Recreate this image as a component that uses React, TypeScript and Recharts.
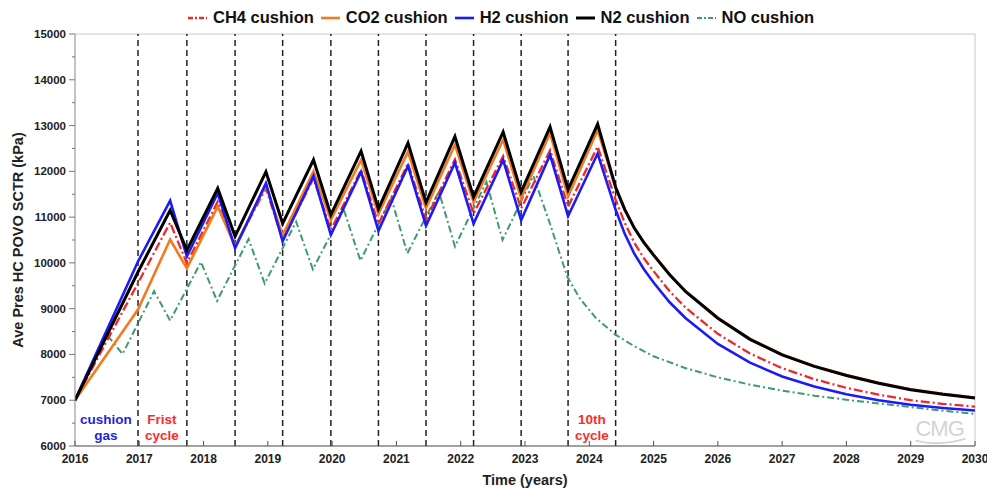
import { LineChart, Line, XAxis, YAxis, ReferenceLine, ReferenceDot } from "recharts";

// time axis shared by the four cushion-gas runs (years): ramp, 10 cycles, shut-in decline
const cycleYears = [
  2016, 2016.98,
  2017.48, 2017.74, 2018.22, 2018.49, 2018.97, 2019.23, 2019.71, 2019.98, 2020.45,
  2020.72, 2021.18, 2021.46, 2021.91, 2022.2, 2022.66, 2022.94, 2023.39, 2023.67, 2024.13,
  2024.41, 2024.55, 2024.7, 2024.85, 2025, 2025.25, 2025.5, 2026, 2026.5, 2027, 2027.5,
  2028, 2028.5, 2029, 2029.5, 2030,
];

const ch4 = [
  7000, 9560,
  10880, 9990, 11340, 10360, 11630, 10500, 11850, 10720, 12030,
  10850, 12170, 10950, 12260, 11080, 12330, 11190, 12460, 11230, 12540,
  11380, 10880, 10440, 10100, 9820, 9380, 9020, 8450, 8020, 7700, 7460,
  7270, 7120, 7000, 6920, 6860,
];

const co2 = [
  7000, 8980,
  10510, 9880, 11230, 10360, 11700, 10600, 12000, 10940, 12250,
  11070, 12430, 11190, 12580, 11330, 12690, 11410, 12830, 11450, 12900,
  11640, 11180, 10770, 10450, 10180, 9750, 9380, 8800, 8340, 8000, 7750,
  7550, 7380, 7240, 7140, 7060,
];

const h2 = [
  7000, 10030,
  11360, 10140, 11525, 10320, 11740, 10470, 11900, 10610, 11990,
  10700, 12120, 10810, 12190, 10860, 12250, 10930, 12360, 11020, 12390,
  11160, 10640, 10200, 9860, 9570, 9140, 8790, 8230, 7820, 7520, 7300,
  7130, 7000, 6900, 6830, 6775,
];

const n2 = [
  7000, 9800,
  11150, 10280, 11630, 10580, 11990, 10860, 12250, 11050, 12440,
  11180, 12620, 11320, 12760, 11440, 12860, 11550, 12970, 11600, 13030,
  11650, 11170, 10760, 10440, 10170, 9740, 9370, 8790, 8330, 7990, 7740,
  7540, 7370, 7230, 7130, 7050,
];

// the run without cushion gas cycles on its own schedule
const noCushionYears = [
  2016, 2016.49, 2016.74, 2017.23, 2017.48, 2017.96, 2018.21, 2018.7, 2018.95, 2019.44,
  2019.7, 2020.18, 2020.44, 2020.92, 2021.17, 2021.66, 2021.91, 2022.4, 2022.65, 2023.13,
  2023.39, 2023.54, 2023.66, 2023.85, 2024.1, 2024.41, 2024.7, 2025, 2025.5, 2026,
  2026.5, 2027, 2027.5, 2028, 2028.5, 2029, 2029.5, 2030,
];

const noCushion = [
  7000, 8440, 8010, 9380, 8740, 10020, 9170, 10520, 9550, 10900,
  9860, 11170, 10050, 11410, 10210, 11560, 10360, 11770, 10500, 11900,
  10850, 10200, 9690, 9230, 8800, 8430, 8180, 7960, 7700, 7500,
  7340, 7210, 7100, 7010, 6930, 6850, 6770, 6700,
];

// boundaries of the cushion period and the ten storage cycles
const cycleBounds = [
  2016.98, 2017.74, 2018.49, 2019.23, 2019.98, 2020.72, 2021.46, 2022.2, 2022.94, 2023.67, 2024.41,
];

const yearTicks = [
  2016, 2017, 2018, 2019, 2020, 2021, 2022, 2023, 2024, 2025, 2026, 2027, 2028, 2029, 2030,
];

const pressureTicks = [
  6000, 6500, 7000, 7500, 8000, 8500, 9000, 9500, 10000, 10500,
  11000, 11500, 12000, 12500, 13000, 13500, 14000, 14500, 15000,
];

const FONT = "Arial, 'Liberation Sans', sans-serif";

const toPoints = (years: number[], values: number[]) =>
  years.map((t, i) => ({ t, p: values[i] }));

const series = [
  { name: "NO cushion", data: toPoints(noCushionYears, noCushion), color: "#3f9b6f", width: 2, dash: "7 3 2 3" },
  { name: "CH4 cushion", data: toPoints(cycleYears, ch4), color: "#f0282a", width: 2.3, dash: "9 3 2 3" },
  { name: "CO2 cushion", data: toPoints(cycleYears, co2), color: "#f47a22", width: 2.6, dash: undefined },
  { name: "H2 cushion", data: toPoints(cycleYears, h2), color: "#1b1bf5", width: 2.6, dash: undefined },
  { name: "N2 cushion", data: toPoints(cycleYears, n2), color: "#000000", width: 3, dash: undefined },
];

const legendOrder = ["CH4 cushion", "CO2 cushion", "H2 cushion", "N2 cushion", "NO cushion"];

const YTick = (props: any) => {
  const { x, y, payload } = props;
  const major = payload.value % 1000 === 0;
  return (
    <g>
      <line x1={x - (major ? 6 : 3)} x2={x} y1={y} y2={y} stroke="#777" strokeWidth={1} />
      {major && (
        <text x={x - 9} y={y} dy={4} textAnchor="end" fontFamily={FONT} fontWeight="bold" fontSize={11.5} fill="#222">
          {payload.value}
        </text>
      )}
    </g>
  );
};

const XTick = (props: any) => {
  const { x, y, payload } = props;
  return (
    <g>
      <line x1={x} x2={x} y1={y} y2={y - 5} stroke="#555" strokeWidth={1} />
      <text x={x} y={y + 17} textAnchor="middle" fontFamily={FONT} fontWeight="bold" fontSize={12} fill="#222">
        {payload.value}
      </text>
    </g>
  );
};

const note = (lines: string[], color: string) => (p: any) => {
  const vb = p.viewBox;
  const cx = vb.x + vb.width / 2;
  const cy = vb.y + vb.height / 2;
  return (
    <text x={cx} y={cy} textAnchor="middle" fontFamily={FONT} fontWeight="bold" fontSize={13.5} fill={color}>
      {lines.map((l, i) => (
        <tspan key={l} x={cx} dy={i === 0 ? -4 : 16}>
          {l}
        </tspan>
      ))}
    </text>
  );
};

const cmgMark = (p: any) => {
  const vb = p.viewBox;
  const cx = vb.x + vb.width / 2;
  const cy = vb.y + vb.height / 2;
  return (
    <g>
      <text x={cx} y={cy + 7} textAnchor="middle" fontFamily={FONT} fontSize={22} fill="#d4d4d4" letterSpacing={-1}>
        CMG
      </text>
      <path d={`M${cx - 24},${cy + 12} Q${cx},${cy + 18} ${cx + 26},${cy + 10}`} stroke="#d4d4d4" strokeWidth={2} fill="none" />
    </g>
  );
};

function LegendSample({ color, dash, width }: { color: string; dash?: string; width: number }) {
  return (
    <svg width={19} height={10} style={{ marginRight: 6 }}>
      <line x1={0} x2={19} y1={5} y2={5} stroke={color} strokeWidth={width} strokeDasharray={dash ? "5 2 2 2" : undefined} />
    </svg>
  );
}

export default function App() {
  return (
    <div style={{ position: "absolute", left: 0, top: 0, width: 987, height: 488, background: "#fff" }}>
      <div
        style={{
          position: "absolute",
          left: 188,
          top: 8,
          display: "flex",
          alignItems: "center",
          fontFamily: FONT,
          fontWeight: "bold",
          fontSize: 16.5,
          color: "#111",
          whiteSpace: "nowrap",
          zIndex: 2,
        }}
      >
        {legendOrder.map((name) => {
          const s = series.find((d) => d.name === name)!;
          return (
            <div key={name} style={{ display: "flex", alignItems: "center", marginRight: 7 }}>
              <LegendSample color={s.color} dash={s.dash} width={s.width} />
              <span>{name}</span>
            </div>
          );
        })}
      </div>

      <LineChart width={987} height={488} margin={{ top: 34, right: 12, bottom: 0, left: 0 }}>
        <XAxis
          dataKey="t"
          type="number"
          domain={[2016, 2030]}
          ticks={yearTicks}
          interval={0}
          allowDataOverflow
          height={42}
          tickSize={0}
          tickMargin={0}
          tick={<XTick />}
          stroke="#444"
          label={(p: any) => (
            <text
              x={p.viewBox.x + p.viewBox.width / 2}
              y={p.viewBox.y + 39}
              textAnchor="middle"
              fontFamily={FONT}
              fontWeight="bold"
              fontSize={14.5}
              fill="#222"
            >
              Time (years)
            </text>
          )}
        />
        <YAxis
          type="number"
          domain={[6000, 15000]}
          ticks={pressureTicks}
          interval={0}
          allowDataOverflow
          width={75}
          tickSize={0}
          tickMargin={0}
          tick={<YTick />}
          stroke="#888"
          label={(p: any) => {
            const x = p.viewBox.x + 19;
            const y = p.viewBox.y + p.viewBox.height / 2;
            return (
              <text
                x={x}
                y={y}
                transform={`rotate(-90 ${x} ${y})`}
                textAnchor="middle"
                dominantBaseline="middle"
                fontFamily={FONT}
                fontWeight="bold"
                fontSize={14.5}
                fill="#222"
              >
                Ave Pres HC POVO SCTR (kPa)
              </text>
            );
          }}
        />

        <ReferenceLine y={15000} stroke="#c8c8c8" strokeWidth={1} />
        <ReferenceLine x={2030} stroke="#c8c8c8" strokeWidth={1} />

        {cycleBounds.map((b) => (
          <ReferenceLine key={b} x={b} stroke="#222" strokeWidth={1.5} strokeDasharray="6 4" />
        ))}

        {series.map((s) => (
          <Line
            key={s.name}
            data={s.data}
            dataKey="p"
            name={s.name}
            type="linear"
            stroke={s.color}
            strokeWidth={s.width}
            strokeDasharray={s.dash}
            dot={false}
            activeDot={false}
            isAnimationActive={false}
          />
        ))}

        <ReferenceDot x={2016.48} y={6400} r={0} fill="none" stroke="none" label={note(["cushion", "gas"], "#1f1fe0")} />
        <ReferenceDot x={2017.35} y={6400} r={0} fill="none" stroke="none" label={note(["Frist", "cycle"], "#ff2a2a")} />
        <ReferenceDot x={2024.04} y={6400} r={0} fill="none" stroke="none" label={note(["10th", "cycle"], "#ff2a2a")} />
        <ReferenceDot x={2029.45} y={6380} r={0} fill="none" stroke="none" label={cmgMark} />
      </LineChart>
    </div>
  );
}
